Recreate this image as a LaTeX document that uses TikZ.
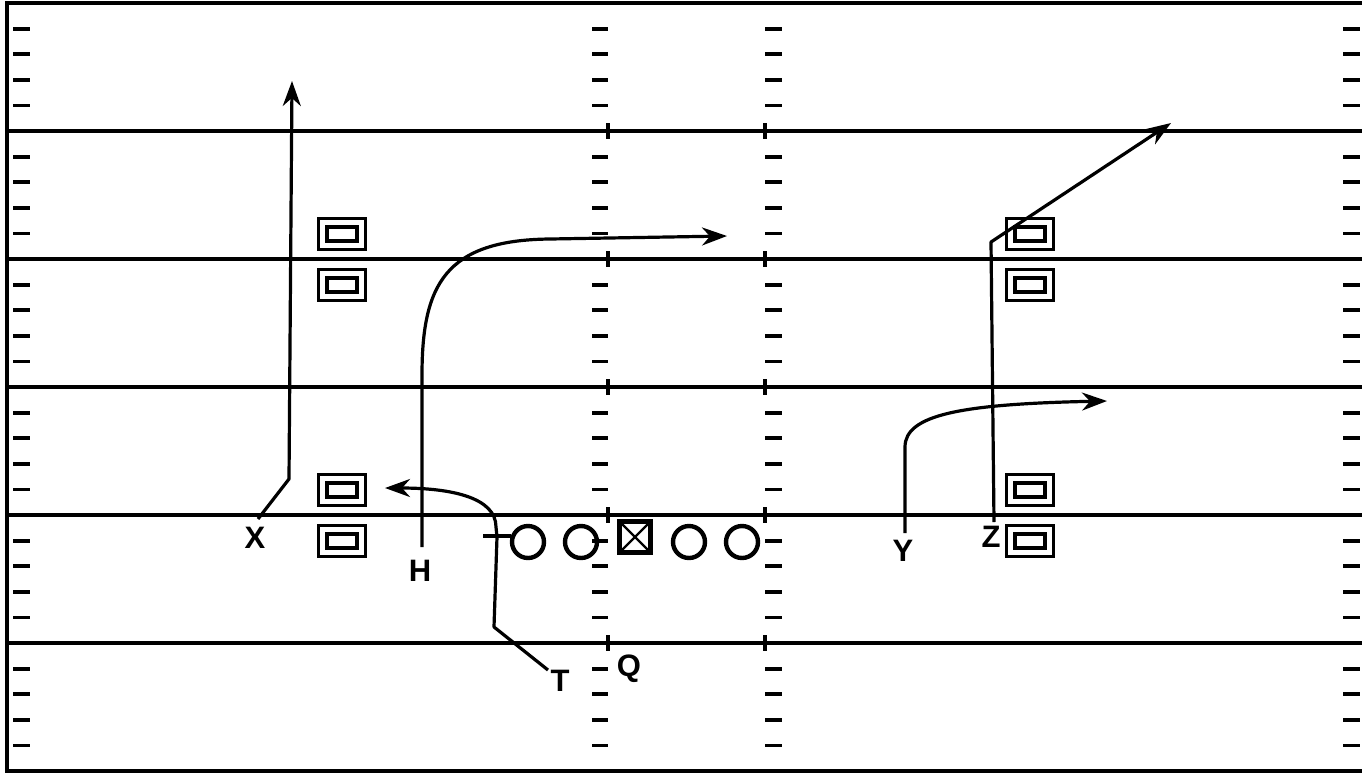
\documentclass[tikz,border=0pt]{standalone}
\usepackage{fontspec}
\setmainfont{Liberation Sans}
\usetikzlibrary{arrows.meta}
\begin{document}
\begin{tikzpicture}[x=1pt,y=-1pt,
  frame/.style={line width=3.4pt},
  yard/.style={line width=3.1pt},
  hashmark/.style={line width=3.8pt},
  cross/.style={line width=3.2pt},
  route/.style={line width=3.2pt, line join=round},
  arr/.style={-{Stealth[length=25pt,width=18pt,inset=8pt]}},
  lbl/.style={font=\fontsize{31}{31}\selectfont\bfseries, inner sep=0pt},
  wr/.style={draw, rectangle, double, line width=3.2pt, double distance=5.3pt,
             minimum width=38.5pt, minimum height=22.5pt, inner sep=0pt},
  ol/.style={draw, circle, line width=4.4pt, minimum size=32pt, inner sep=0pt},
  ctr/.style={draw, rectangle, line width=4.8pt, minimum size=31.5pt, inner sep=0pt,
     path picture={\draw[line width=2.2pt]
        (path picture bounding box.north west) -- (path picture bounding box.south east)
        (path picture bounding box.north east) -- (path picture bounding box.south west);}}
]
\useasboundingbox (0,0) rectangle (1362,772);
% frame
\draw[frame] (1380,3) -- (7,3) -- (7,771) -- (1380,771);
% yard lines
\foreach \y in {131,259,387,515,643} {
  \draw[yard] (7,\y) -- (1362,\y);
  \draw[cross] (608,\y-8) -- (608,\y+8);
  \draw[cross] (765,\y-8) -- (765,\y+8);
}
% hash marks
\foreach \k in {1,...,29} {
  \pgfmathtruncatemacro{\m}{mod(\k,5)}
  \ifnum\m>0
    \pgfmathsetmacro{\yy}{3+25.6*\k}
    \draw[hashmark] (13,\yy) -- (30,\yy);
    \draw[hashmark] (592,\yy) -- (608,\yy);
    \draw[hashmark] (765,\yy) -- (782,\yy);
    \draw[hashmark] (1343,\yy) -- (1360,\yy);
  \fi
}
% receivers
\node[wr] (wl1) at (342,234) {};
\node[wr] (wl2) at (342,285) {};
\node[wr] (wl3) at (342,490) {};
\node[wr] (wl4) at (342,541) {};
\node[wr] (wr1) at (1030,234) {};
\node[wr] (wr2) at (1030,285) {};
\node[wr] (wr3) at (1030,490) {};
\node[wr] (wr4) at (1030,541) {};
% offensive line
\node[ol] (lt) at (528,542) {};
\node[ol] (lg) at (581,542) {};
\node[ctr] (c) at (635,537) {};
\node[ol] (rg) at (689,542) {};
\node[ol] (rt) at (742,542) {};
% labels
\node[lbl] (X) at (255,538) {X};
\node[lbl] (H) at (420,571) {H};
\node[lbl] (T) at (560,681) {T};
\node[lbl] (Q) at (629,669) {Q};
\node[lbl] (Y) at (903,551) {Y};
\node[lbl] (Z) at (991,537) {Z};
% route coordinates
\coordinate (xs) at (258,519);
\coordinate (xb) at (289,479);
\coordinate (xe) at (292,81);
\coordinate (hs) at (422,547);
\coordinate (hb) at (422,375);
\coordinate (hm) at (550,239);
\coordinate (he) at (727,236);
\coordinate (ts) at (548,670);
\coordinate (tb) at (494,627);
\coordinate (tt) at (497,537);
\coordinate (tc) at (496,527);
\coordinate (te) at (385,488);
\coordinate (bl) at (483,536);
\coordinate (br) at (511,536);
\coordinate (ys) at (905,533);
\coordinate (yb) at (905,447);
\coordinate (ye) at (1107,401);
\coordinate (zs) at (994,522);
\coordinate (zb) at (991,242);
\coordinate (ze) at (1171,123);
% routes
\draw[route,arr] (xs) -- (xb) -- (xe);
\draw[route,arr] (hs) -- (hb) .. controls (422,285) and (445,240) .. (hm) -- (he);
\draw[route,arr] (ts) -- (tb) -- (tt) -- (tc) .. controls (496,497) and (450,488) .. (te);
\draw[route] (bl) -- (br);
\draw[route,arr] (ys) -- (yb) .. controls (905,415) and (960,404) .. (ye);
\draw[route,arr] (zs) -- (zb) -- (ze);
\end{tikzpicture}
\end{document}
